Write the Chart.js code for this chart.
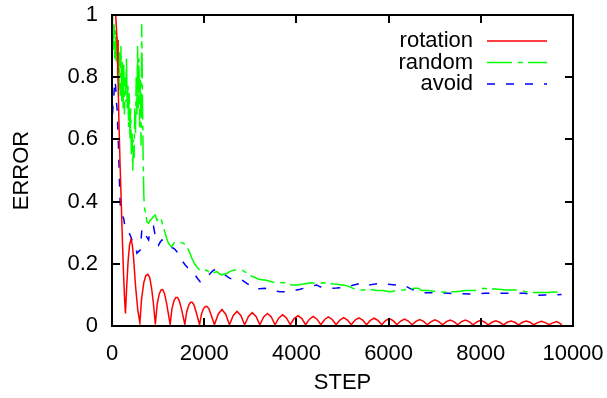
<!DOCTYPE html>
<html>
<head>
<meta charset="utf-8">
<script src="https://cdn.jsdelivr.net/npm/chart.js@4/dist/chart.umd.min.js"></script>
<style>
  html, body { margin: 0; padding: 0; background: #fff; }
  #wrap { width: 607px; height: 398px; }
</style>
</head>
<body>
<div id="wrap"><canvas id="c" width="607" height="398"></canvas></div>
<script>
// ---- data (step, error) ----
const xTicks = [0, 2000, 4000, 6000, 8000, 10000];
const yTicks = [0, 0.2, 0.4, 0.6, 0.8, 1];
const seriesNames = ['rotation', 'random', 'avoid'];

const rotation = [
  [80,1.0],[110,0.92],[130,0.8],[150,0.66],[175,0.52],[200,0.4],[225,0.28],[250,0.17],[275,0.08],[292,0.04],
  [320,0.13],[350,0.21],[380,0.26],[411,0.278],[440,0.262],[470,0.215],[510,0.13],[560,0.05],[605,0.01],
  [640,0.085],[690,0.14],[735,0.162],[780,0.166],[820,0.155],[860,0.12],[900,0.07],[940,0.005],
  [980,0.07],[1025,0.103],[1065,0.116],[1100,0.117],[1140,0.104],[1185,0.072],[1262,0.005],
  [1300,0.055],[1345,0.082],[1385,0.092],[1422,0.092],[1460,0.081],[1505,0.056],[1580,0.005],
  [1620,0.045],[1665,0.067],[1705,0.076],[1740,0.076],[1780,0.067],[1825,0.045],[1900,0.004],
  [1940,0.038],[1985,0.056],[2025,0.063],[2060,0.063],[2100,0.056],[2145,0.038],[2222,0.004],
  [2303,0.038],[2385,0.053],[2467,0.038],[2548,0.004],
  [2630,0.034],[2712,0.047],[2795,0.034],[2877,0.004],
  [2960,0.031],[3042,0.043],[3125,0.031],[3207,0.004],
  [3290,0.029],[3372,0.040],[3455,0.029],[3537,0.004],
  [3620,0.026],[3702,0.036],[3785,0.026],[3868,0.004],
  [3950,0.024],[4035,0.033],[4118,0.024],[4200,0.004],
  [4283,0.022],[4365,0.031],[4448,0.022],[4530,0.004],
  [4613,0.021],[4695,0.029],[4778,0.021],[4860,0.004],
  [4943,0.019],[5025,0.027],[5108,0.019],[5190,0.004],
  [5273,0.019],[5355,0.026],[5438,0.019],[5520,0.004],
  [5603,0.018],[5685,0.025],[5768,0.018],[5850,0.004],
  [5933,0.017],[6015,0.024],[6098,0.017],[6180,0.004],
  [6263,0.016],[6345,0.022],[6428,0.016],[6510,0.004],
  [6593,0.015],[6675,0.021],[6758,0.015],[6840,0.004],
  [6923,0.014],[7005,0.020],[7088,0.014],[7170,0.004],
  [7253,0.014],[7335,0.019],[7418,0.014],[7500,0.004],
  [7583,0.014],[7665,0.019],[7748,0.014],[7830,0.004],
  [7913,0.013],[7995,0.018],[8078,0.013],[8160,0.004],
  [8243,0.012],[8325,0.017],[8408,0.012],[8490,0.004],
  [8573,0.012],[8655,0.016],[8738,0.012],[8820,0.004],
  [8903,0.012],[8985,0.016],[9068,0.012],[9150,0.004],
  [9233,0.011],[9315,0.015],[9398,0.011],[9480,0.004],
  [9563,0.010],[9645,0.014],[9700,0.010],[9760,0.004]
];

const random = [
  [0,0.9],[15,1.0],[30,0.88],[45,0.97],[60,0.86],[75,0.95],[90,0.85],[105,0.93],[120,0.8],[135,0.92],
  [150,0.76],[165,0.88],[180,0.74],[195,0.9],[210,0.72],[225,0.85],[240,0.7],[255,0.84],[270,0.68],[285,0.8],
  [300,0.72],[315,0.86],[330,0.7],[345,0.78],[360,0.64],[375,0.75],[390,0.6],[405,0.7],[420,0.55],[435,0.62],
  [450,0.5],[465,0.6],[480,0.54],[495,0.7],[510,0.62],[525,0.8],[540,0.68],[555,0.9],[570,0.7],[585,0.86],
  [600,0.64],[615,0.8],[630,0.58],[645,0.97],[660,0.75],[675,0.55],[690,0.42],[705,0.38],
  [722,0.367],[760,0.335],[793,0.33],[830,0.34],[866,0.346],[900,0.352],[938,0.357],[975,0.34],[1010,0.348],
  [1047,0.351],[1083,0.335],[1120,0.315],[1155,0.298],[1190,0.28],[1227,0.266],[1265,0.258],[1300,0.255],
  [1335,0.265],[1372,0.271],[1410,0.27],[1443,0.271],[1500,0.268],[1552,0.266],[1590,0.26],[1625,0.255],
  [1680,0.238],[1733,0.218],[1790,0.2],[1842,0.19],[1900,0.18],[1950,0.175],[2000,0.178],[2058,0.18],
  [2110,0.172],[2167,0.169],[2220,0.172],[2275,0.175],[2330,0.168],[2383,0.164],[2440,0.167],[2492,0.169],
  [2545,0.174],[2600,0.178],[2655,0.18],[2708,0.18],[2760,0.181],[2817,0.18],[2870,0.175],[2925,0.171],
  [2980,0.166],[3033,0.16],[3105,0.156],[3178,0.15],[3250,0.149],[3322,0.148],[3395,0.145],[3467,0.142],
  [3520,0.14],[3575,0.139],[3665,0.139],[3755,0.139],[3830,0.135],[3900,0.132],[3970,0.132],[4044,0.132],
  [4100,0.134],[4152,0.135],[4225,0.137],[4297,0.139],[4370,0.138],[4442,0.137],[4515,0.138],[4585,0.139],
  [4660,0.138],[4730,0.137],[4800,0.135],[4876,0.134],[4950,0.133],[5019,0.132],[5090,0.129],[5164,0.126],
  [5235,0.12],[5309,0.116],[5380,0.116],[5452,0.116],[5525,0.117],[5597,0.118],[5670,0.116],[5742,0.114],
  [5815,0.114],[5886,0.114],[5960,0.112],[6031,0.11],[6100,0.112],[6176,0.114],[6250,0.115],[6319,0.116],
  [6400,0.118],[6500,0.12],[6570,0.121],[6644,0.121],[6717,0.114],[6790,0.114],[6861,0.114],[6970,0.112],
  [7078,0.11],[7186,0.109],[7294,0.109],[7367,0.11],[7439,0.11],[7550,0.112],[7656,0.114],[7765,0.114],
  [7873,0.114],[7960,0.118],[8053,0.121],[8125,0.12],[8198,0.12],[8290,0.119],[8378,0.118],[8450,0.117],
  [8523,0.116],[8630,0.116],[8740,0.116],[8810,0.115],[8884,0.114],[8956,0.111],[9028,0.109],[9136,0.108],
  [9245,0.108],[9350,0.108],[9462,0.108],[9600,0.109],[9751,0.11]
];

const avoid = [
  [0,0.72],[20,0.7],[40,0.74],[60,0.79],[80,0.77],[95,0.72],[110,0.7],[125,0.64],[140,0.58],[155,0.5],
  [170,0.42],[185,0.375],[220,0.355],[255,0.345],[290,0.31],[330,0.305],[361,0.303],[400,0.29],[433,0.277],
  [470,0.27],[505,0.26],[541,0.234],[580,0.24],[613,0.244],[650,0.314],[686,0.303],[722,0.293],[760,0.285],
  [794,0.277],[830,0.309],[866,0.31],[902,0.319],[938,0.29],[975,0.277],[1010,0.26],[1047,0.27],[1083,0.277],
  [1120,0.274],[1155,0.271],[1210,0.262],[1263,0.255],[1300,0.252],[1335,0.25],[1372,0.245],[1408,0.239],
  [1445,0.23],[1480,0.218],[1535,0.207],[1588,0.196],[1640,0.188],[1697,0.18],[1750,0.172],[1805,0.164],
  [1860,0.152],[1913,0.142],[1965,0.146],[2022,0.153],[2075,0.161],[2130,0.169],[2185,0.177],[2238,0.182],
  [2290,0.179],[2347,0.175],[2400,0.17],[2455,0.164],[2510,0.158],[2563,0.153],[2620,0.15],[2672,0.148],
  [2745,0.148],[2817,0.148],[2870,0.143],[2925,0.137],[2980,0.132],[3033,0.126],[3105,0.118],[3200,0.12],
  [3322,0.121],[3420,0.117],[3500,0.114],[3647,0.11],[3740,0.11],[3828,0.11],[3950,0.114],[4080,0.118],
  [4152,0.121],[4300,0.127],[4442,0.132],[4514,0.126],[4620,0.123],[4730,0.121],[4870,0.122],[5019,0.124],
  [5200,0.13],[5380,0.137],[5489,0.129],[5630,0.133],[5778,0.137],[5980,0.134],[6176,0.132],[6284,0.132],
  [6400,0.126],[6500,0.118],[6650,0.111],[6789,0.107],[7000,0.107],[7150,0.106],[7300,0.105],[7550,0.104],
  [7800,0.103],[8090,0.105],[8300,0.106],[8523,0.105],[8750,0.105],[8956,0.105],[9100,0.102],[9245,0.099],
  [9400,0.1],[9534,0.1],[9751,0.101]
];

// ---- chart ----
const FONT = "'Liberation Sans', Arial, Helvetica, sans-serif";
Chart.defaults.font.family = FONT;
Chart.defaults.color = '#000';

const toXY = arr => arr.map(p => ({x: p[0], y: p[1]}));

const frameAndKey = {
  id: 'frameAndKey',
  afterDatasetsDraw(chart) {
    const {ctx, chartArea: a, scales} = chart;
    const xs = scales.x, ys = scales.y;
    ctx.save();
    ctx.strokeStyle = '#000';
    ctx.lineWidth = 2;
    ctx.setLineDash([]);
    ctx.strokeRect(a.left, a.top, a.right - a.left, a.bottom - a.top);
    const L = 8;
    ctx.beginPath();
    xTicks.forEach(v => {
      const px = Math.round(xs.getPixelForValue(v));
      ctx.moveTo(px, a.bottom); ctx.lineTo(px, a.bottom - L);
      ctx.moveTo(px, a.top); ctx.lineTo(px, a.top + L);
    });
    yTicks.forEach(v => {
      const py = Math.round(ys.getPixelForValue(v));
      ctx.moveTo(a.left, py); ctx.lineTo(a.left + L, py);
      ctx.moveTo(a.right, py); ctx.lineTo(a.right - L, py);
    });
    ctx.stroke();

    // key (gnuplot style: right-aligned text, then line sample)
    ctx.font = '22px ' + FONT;
    ctx.textAlign = 'right';
    ctx.textBaseline = 'middle';
    const textRight = a.right - 100;
    const sx0 = a.right - 86, sx1 = a.right - 26;
    chart.data.datasets.forEach((ds, i) => {
      const yy = a.top + 26 + i * 21.5;
      ctx.fillStyle = '#000';
      ctx.fillText(ds.label, textRight, yy);
      ctx.strokeStyle = ds.borderColor;
      ctx.lineWidth = ds.borderWidth;
      ctx.setLineDash(ds.borderDash || []);
      ctx.beginPath();
      ctx.moveTo(sx0, yy); ctx.lineTo(sx1, yy);
      ctx.stroke();
    });
    ctx.restore();
  }
};

new Chart(document.getElementById('c'), {
  type: 'line',
  data: {
    datasets: [
      { label: seriesNames[0], data: toXY(rotation), borderColor: '#ff0000', borderWidth: 1.5, borderDash: [] },
      { label: seriesNames[1], data: toXY(random), borderColor: '#00ff00', borderWidth: 1.5, borderDash: [25, 6, 5, 5] },
      { label: seriesNames[2], data: toXY(avoid), borderColor: '#0000ff', borderWidth: 1.5, borderDash: [8, 11] }
    ]
  },
  options: {
    responsive: false,
    animation: false,
    devicePixelRatio: 1,
    events: [],
    elements: { point: { radius: 0 }, line: { tension: 0, fill: false } },
    layout: { padding: { top: 15, right: 34, left: 0, bottom: 0 } },
    plugins: { legend: { display: false }, tooltip: { enabled: false } },
    scales: {
      x: {
        type: 'linear', min: 0, max: 10000,
        afterBuildTicks: s => { s.ticks = xTicks.map(v => ({value: v})); },
        ticks: { autoSkip: false, maxRotation: 0, padding: 15, font: { size: 22 }, color: '#000',
                 callback: v => String(v) },
        grid: { display: false, drawTicks: false },
        border: { display: false },
        title: { display: true, text: 'STEP', font: { size: 22 }, color: '#000', padding: { top: 0, bottom: 2 } },
        afterFit: s => { s.height = 72; s.paddingLeft = 0; s.paddingRight = 0; }
      },
      y: {
        type: 'linear', min: 0, max: 1,
        afterBuildTicks: s => { s.ticks = yTicks.map(v => ({value: v})); },
        ticks: { autoSkip: false, padding: 14, font: { size: 22 }, color: '#000',
                 callback: v => String(+v.toFixed(1)) },
        grid: { display: false, drawTicks: false },
        border: { display: false },
        title: { display: true, text: 'ERROR', font: { size: 22 }, color: '#000', padding: { top: 9, bottom: 0 } },
        afterFit: s => { s.width = 112; s.paddingTop = 0; s.paddingBottom = 0; }
      }
    }
  },
  plugins: [frameAndKey]
});
</script>
</body>
</html>
